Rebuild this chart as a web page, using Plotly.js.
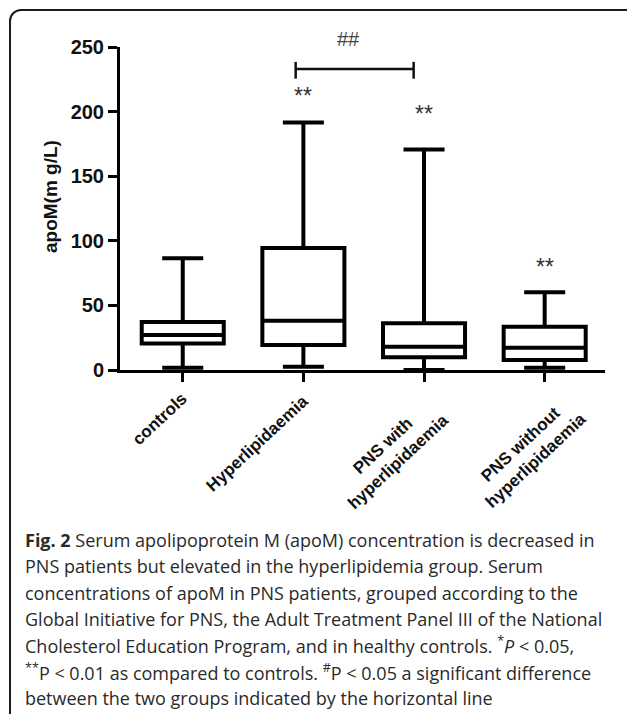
<!DOCTYPE html>
<html>
<head>
<meta charset="utf-8">
<script src="https://cdn.plot.ly/plotly-3.0.1.min.js"></script>
<style>
  html, body { margin: 0; padding: 0; width: 627px; height: 714px; overflow: hidden; background: #fff; }
  #frame { position: absolute; left: 9px; top: 9px; width: 700px; height: 800px;
           border: 2px solid #1c1c1c; border-radius: 12px; }
  #chart { position: absolute; left: 0; top: 0; width: 627px; height: 714px; }
</style>
</head>
<body>
<div id="frame"></div>
<div id="chart"></div>
<script>
// ---- data (apoM, mg/L) ----
const categories = ['controls', 'Hyperlipidaemia', 'PNS with hyperlipidaemia', 'PNS without hyperlipidaemia'];
const tickLabels = ['controls', 'Hyperlipidaemia', 'PNS with<br>hyperlipidaemia', 'PNS without<br>hyperlipidaemia'];
const lowerWhisker = [1.8, 2.6, 0, 1.8];
const q1Values     = [20.6, 19.3, 9.8, 7.7];
const medianValues = [27.1, 38.1, 18.0, 17.3];
const q3Values     = [37.1, 94.5, 36.1, 33.5];
const upperWhisker = [86.4, 191.6, 170.7, 60.1];
const starLabels   = ['', '**', '**', '**'];
const starY        = [null, 212, 198, 80];
const yTicks       = [0, 50, 100, 150, 200, 250];
const bracketGroups = [1, 2];          // Hyperlipidaemia vs PNS with hyperlipidaemia
const bracketLabel  = '##';
const yTitle = 'apoM(m g/L)';

const captionLines = [
  '<b>Fig. 2</b> Serum apolipoprotein M (apoM) concentration is decreased in',
  'PNS patients but elevated in the hyperlipidemia group. Serum',
  'concentrations of apoM in PNS patients, grouped according to the',
  'Global Initiative for PNS, the Adult Treatment Panel III of the National',
  'Cholesterol Education Program, and in healthy controls. <sup>*</sup><i>P</i> &lt; 0.05,',
  '<sup>**</sup>P &lt; 0.01 as compared to controls. <sup>#</sup>P &lt; 0.05 a significant difference',
  'between the two groups indicated by the horizontal line'
];

// ---- layout geometry (pixels) ----
const W = 627, H = 714;
const M = {l: 120, r: 22, t: 47, b: 344};
const plotW = W - M.l - M.r, plotH = H - M.t - M.b;
const pxX = px => (px - M.l) / plotW;
const pxY = py => (H - M.b - py) / plotH;
// centres of the rotated category label blocks
const labelCentres = [[159, 419], [257, 443], [391, 454], [528, 452]];

const trace = {
  type: 'box',
  x: categories,
  lowerfence: lowerWhisker,
  q1: q1Values,
  median: medianValues,
  q3: q3Values,
  upperfence: upperWhisker,
  boxpoints: false,
  width: 0.68,
  whiskerwidth: 0.5,
  fillcolor: 'rgba(255,255,255,0)',
  line: {color: '#000', width: 4},
  hoverinfo: 'skip',
  showlegend: false
};

const boldFont = (size) => ({family: 'Liberation Sans, Arial', size: size, weight: 'bold', color: '#111'});
const annotations = [];
categories.forEach((c, i) => {
  if (starLabels[i]) {
    annotations.push({x: i, y: starY[i], xref: 'x', yref: 'y', text: starLabels[i],
      showarrow: false, font: {family: 'Liberation Sans, Arial', size: 23, color: '#333'}});
  }
  annotations.push({
    xref: 'paper', yref: 'paper', x: pxX(labelCentres[i][0]), y: pxY(labelCentres[i][1]),
    xanchor: 'center', yanchor: 'middle', textangle: -43, align: 'center',
    showarrow: false, text: tickLabels[i], font: boldFont(17)
  });
});
const bx0 = bracketGroups[0] - 0.064, bx1 = bracketGroups[1] - 0.086;
annotations.push({xref: 'paper', yref: 'paper', x: pxX(348), y: pxY(39), text: bracketLabel,
  xanchor: 'center', yanchor: 'middle',
  showarrow: false, font: {family: 'Liberation Sans, Arial', size: 20, color: '#444'}});
annotations.push({xref: 'paper', yref: 'paper', x: pxX(50), y: pxY(197), text: yTitle,
  xanchor: 'center', yanchor: 'middle', textangle: -90,
  showarrow: false, font: boldFont(19)});

captionLines.forEach((t, i) => {
  annotations.push({
    xref: 'paper', yref: 'paper', x: pxX(23), y: pxY(540 + i * 26.3),
    xanchor: 'left', yanchor: 'middle', showarrow: false, align: 'left',
    text: t, font: {family: 'Open Sans, Noto Sans, sans-serif', size: 18, color: '#2a2a2a'}
  });
});

const shapes = [
  {type: 'line', xref: 'x', yref: 'y', x0: bx0, x1: bx1, y0: 233, y1: 233, line: {color: '#111', width: 2.5}},
  {type: 'line', xref: 'x', yref: 'y', x0: bx0, x1: bx0, y0: 238.5, y1: 225.5, line: {color: '#111', width: 2.5}},
  {type: 'line', xref: 'x', yref: 'y', x0: bx1, x1: bx1, y0: 238.5, y1: 225.5, line: {color: '#111', width: 2.5}}
];

const layout = {
  width: W, height: H,
  margin: M,
  paper_bgcolor: 'rgba(0,0,0,0)',
  plot_bgcolor: 'rgba(0,0,0,0)',
  showlegend: false,
  xaxis: {
    type: 'category',
    range: [-0.52, 3.5],
    tickvals: categories,
    showticklabels: false,
    ticks: 'outside', ticklen: 9, tickwidth: 3, tickcolor: '#000',
    showline: true, linewidth: 3, linecolor: '#000',
    showgrid: false, zeroline: false,
    automargin: false
  },
  yaxis: {
    range: [0, 250],
    tickvals: yTicks,
    ticks: 'outside', ticklen: 9, tickwidth: 3, tickcolor: '#000',
    showline: true, linewidth: 3, linecolor: '#000',
    showgrid: false, zeroline: false,
    tickfont: boldFont(20),
    automargin: false
  },
  annotations: annotations,
  shapes: shapes
};

Plotly.newPlot('chart', [trace], layout, {staticPlot: true, displayModeBar: false});
</script>
</body>
</html>
